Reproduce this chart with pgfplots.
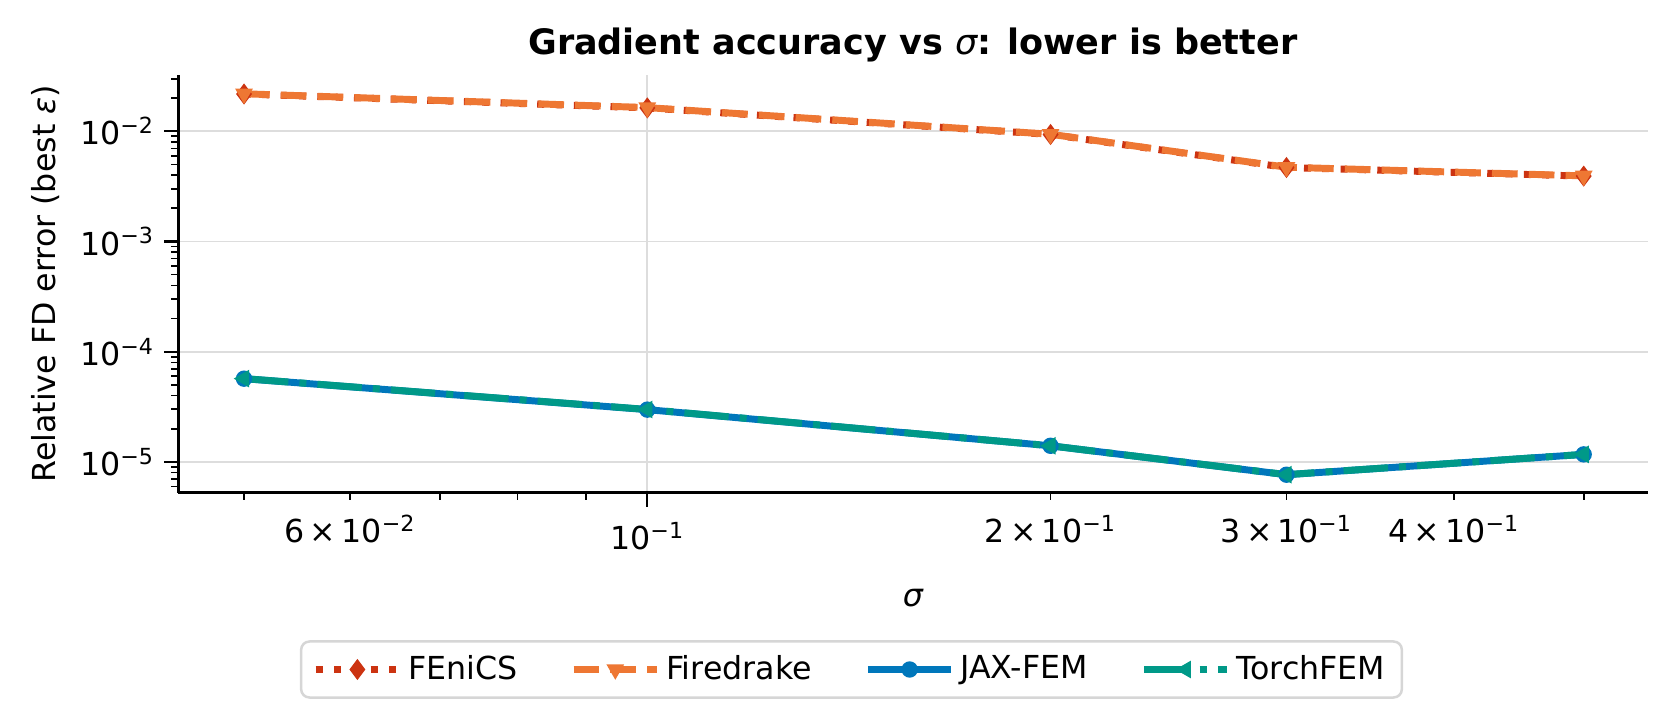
\documentclass[border=0pt]{standalone}
\usepackage{fontspec}
\setmainfont{DejaVu Sans}[ItalicFont={DejaVu Sans Oblique},BoldFont={DejaVu Sans Bold},BoldItalicFont={DejaVu Sans Bold Oblique}]
\usepackage{pgfplots}
\pgfplotsset{compat=1.18}
\definecolor{cfen}{HTML}{CC3311}
\definecolor{cfire}{HTML}{EE7733}
\definecolor{cjax}{HTML}{0077BB}
\definecolor{ctorch}{HTML}{009988}
\definecolor{cgrid}{HTML}{DDDDDD}
\definecolor{cleg}{HTML}{D6D6D6}
\newcommand{\tsup}[1]{\textsuperscript{#1}}
\begin{document}
\begin{tikzpicture}
\begin{axis}[
  scale only axis, width=529pt, height=150.5pt,
  xmode=log, ymode=log,
  xmin=0.04464, xmax=0.558, ymin=5.24e-6, ymax=0.0326,
  axis lines=left, axis line style={-, line width=1.08pt, black},
  tick align=outside,
  major tick length=5pt, minor tick length=2.5pt,
  tick style={black, line width=0.8pt},
  minor tick style={black, line width=0.6pt},
  xtick={0.1}, xticklabels={10\tsup{−1}},
  xticklabel style={yshift=-2pt},
  extra x ticks={0.05,0.06,0.07,0.08,0.09,0.2,0.3,0.4,0.5},
  extra x tick labels={,6\,×\,10\tsup{−2},,,,2\,×\,10\tsup{−1},3\,×\,10\tsup{−1},4\,×\,10\tsup{−1},},
  extra x tick style={grid=none, major tick length=2.5pt, tick style={black, line width=0.6pt},
    xticklabel style={yshift=0pt}},
  ytick={1e-5,1e-4,1e-3,1e-2},
  yticklabels={10\tsup{−5},10\tsup{−4},10\tsup{−3},10\tsup{−2}},
  minor ytick={6e-6,7e-6,8e-6,9e-6,2e-5,3e-5,4e-5,5e-5,6e-5,7e-5,8e-5,9e-5,2e-4,3e-4,4e-4,5e-4,6e-4,7e-4,8e-4,9e-4,2e-3,3e-3,4e-3,5e-3,6e-3,7e-3,8e-3,9e-3,2e-2,3e-2},
  xmajorgrids, ymajorgrids,
  grid style={cgrid, line width=0.6pt},
  every tick label/.append style={font=\fontsize{11.4}{13}\selectfont},
  label style={font=\fontsize{11.4}{13}\selectfont},
  ylabel shift=0.5pt,
  title style={font=\fontsize{12.6}{15}\selectfont\bfseries, yshift=-5pt},
  title={Gradient accuracy vs {\mdseries\itshape σ}: lower is better},
  xlabel={\itshape σ},
  ylabel={Relative FD error (best {\itshape ε})},
  legend columns=4,
  legend cell align=left,
  legend style={at={(0.4583,-0.3526)}, anchor=north, draw=cleg, line width=0.9pt, rounded corners=3pt,
    font=\fontsize{11.4}{13}\selectfont, inner xsep=4pt, inner ysep=3pt,
    /tikz/every even column/.append style={column sep=17pt}},
  legend image code/.code={\draw[mark repeat=2,mark phase=2,#1] plot coordinates {(0pt,0pt)(15pt,0pt)(30pt,0pt)};},
]
\addplot[cfen, line width=2.5pt, dash pattern=on 2.5pt off 4.1pt, mark=diamond*, mark size=3.4pt,
  mark options={solid, fill=cfen, draw=cfen, line width=0.5pt}]
  coordinates {(0.05,0.0218)(0.1,0.0163)(0.2,0.00935)(0.3,0.00469)(0.5,0.00392)};
\addlegendentry{FEniCS}
\addplot[cfire, line width=2.5pt, dash pattern=on 9.25pt off 4pt, mark=triangle*, mark size=3.2pt,
  mark options={solid, fill=cfire, draw=cfire, line width=0.5pt, rotate=180}]
  coordinates {(0.05,0.0219)(0.1,0.0164)(0.2,0.00940)(0.3,0.00472)(0.5,0.00394)};
\addlegendentry{Firedrake}
\addplot[cjax, line width=2.5pt, mark=*, mark size=2.7pt,
  mark options={solid, fill=cjax, draw=cjax, line width=0.5pt}]
  coordinates {(0.05,5.69e-5)(0.1,2.98e-5)(0.2,1.40e-5)(0.3,7.65e-6)(0.5,1.17e-5)};
\addlegendentry{JAX-FEM}
\addplot[ctorch, line width=2.5pt, dash pattern=on 16pt off 4pt on 2.5pt off 4pt, mark=triangle*, mark size=3.2pt,
  mark options={solid, fill=ctorch, draw=ctorch, line width=0.5pt, rotate=90}]
  coordinates {(0.05,5.70e-5)(0.1,2.99e-5)(0.2,1.40e-5)(0.3,7.66e-6)(0.5,1.17e-5)};
\addlegendentry{TorchFEM}
\coordinate (SW) at (rel axis cs:0,0);
\coordinate (NE) at (rel axis cs:1,1);
\end{axis}
\pgfresetboundingbox
\path[use as bounding box] ([xshift=-64.1pt,yshift=-79pt]SW) rectangle ([xshift=8.8pt,yshift=26.9pt]NE);
\end{tikzpicture}
\end{document}
